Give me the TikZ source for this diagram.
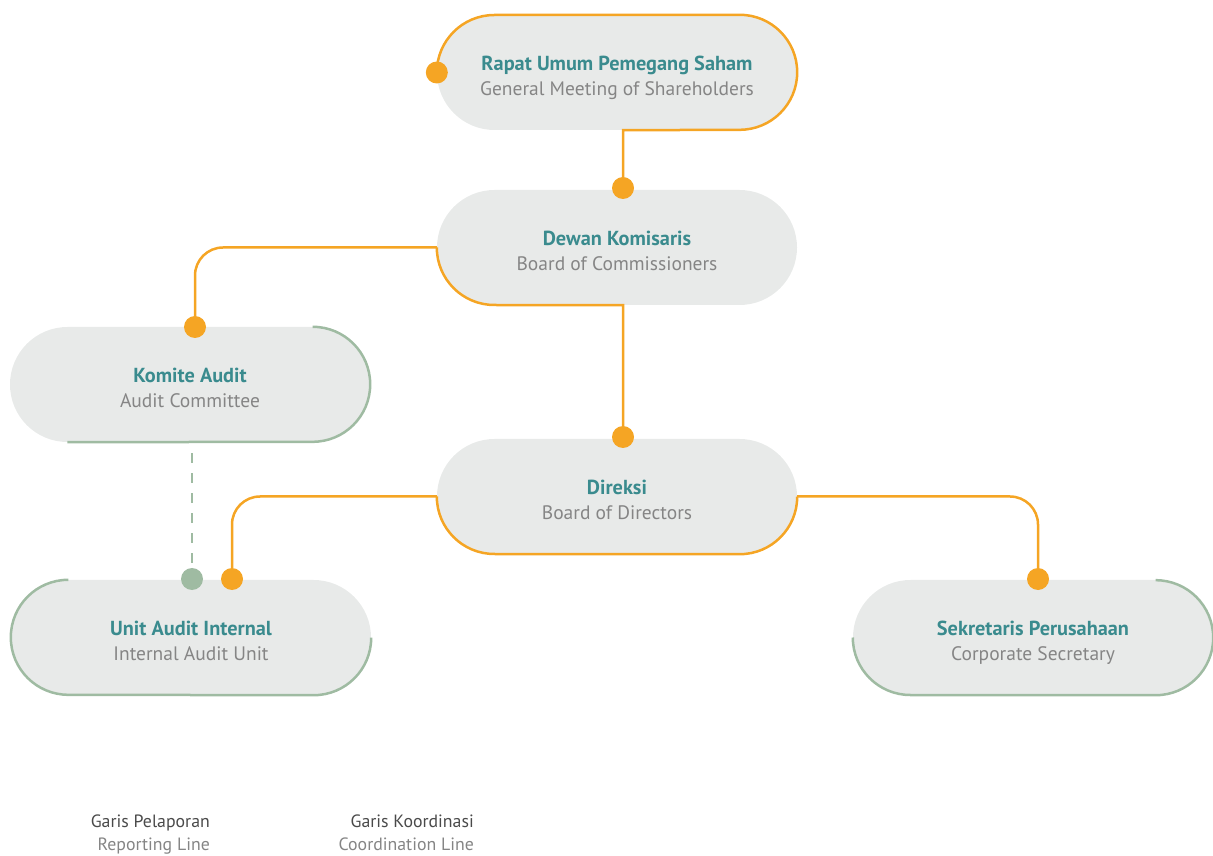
\documentclass[tikz,border=0pt]{standalone}
\usepackage{fontspec}
\setmainfont{PT Sans}
\definecolor{orng}{HTML}{F5A524}
\definecolor{pillgray}{HTML}{E8EAE9}
\definecolor{grn}{HTML}{9FBBA2}
\definecolor{teal}{HTML}{3A8B8E}
\definecolor{subgray}{HTML}{858585}
\definecolor{darkgray}{HTML}{4A4A4A}
\newcommand{\pilltext}[2]{\fontsize{19.5}{25}\selectfont\raisebox{-11pt}[10pt][10pt]{\begin{tabular}{@{}c@{}}{\fontsize{20.3}{25}\selectfont\bfseries\color{teal}#1}\\{\color{subgray}#2}\end{tabular}}}
\newcommand{\sbt}[1]{{\color{subgray}#1}}
\begin{document}
\begin{tikzpicture}[x=1pt,y=1pt,
  pill/.style={rectangle, rounded corners=57.5pt, fill=pillgray, minimum width=360pt, minimum height=115pt, inner sep=0pt, align=center},
  oline/.style={draw=orng, line width=2.5pt},
  gline/.style={draw=grn, line width=2.5pt},
  odot/.style={circle, fill=orng, minimum size=22pt, inner sep=0pt},
  gdotst/.style={circle, fill=grn, minimum size=22pt, inner sep=0pt},
  legt/.style={anchor=south east, inner sep=0pt, font=\fontsize{17.8}{23}\selectfont, align=right}
]
\useasboundingbox (0,0) rectangle (1213,855);
% pills
\node[pill] (rups) at (617,782.5) {\pilltext{Rapat Umum Pemegang Saham}{General Meeting of Shareholders}};
\node[pill] (dewan) at (617,607.5) {\pilltext{Dewan Komisaris}{Board of Commissioners}};
\node[pill] (komite) at (190,470.5) {\pilltext{Komite Audit}{Audit Committee}};
\node[pill] (direksi) at (617,358.5) {\pilltext{Direksi}{Board of Directors}};
\node[pill] (uai) at (191,217.5) {\pilltext{Unit Audit Internal}{Internal Audit Unit}};
\node[pill] (sek) at (1033,217.5) {\pilltext{Sekretaris Perusahaan}{Corporate Secretary}};
% dots
\node[odot] (rdot) at (rups.west) {};
\node[odot] (ddew) at (623,667) {};
\node[odot] (dkom) at (195,528) {};
\node[odot] (ddir) at (623,418) {};
\node[odot] (duai) at (232,276) {};
\node[gdotst] (gdot) at (192,276) {};
\node[odot] (dsek) at (1038,276) {};
% outlines & connectors
\draw[oline] (rups.west) arc[start angle=180,end angle=90,radius=57.5] -- ([xshift=-57.5pt]rups.north east) arc[start angle=90,end angle=-90,radius=57.5] -- ([xshift=6pt]rups.south) -- (ddew);
\draw[oline, rounded corners=28pt] (dkom) |- (dewan.west);
\draw[oline] (dewan.west) arc[start angle=180,end angle=270,radius=57.5] -- ([xshift=6pt]dewan.south) -- (ddir);
\draw[oline, rounded corners=28pt] (duai) |- (direksi.west);
\draw[oline] (direksi.west) arc[start angle=180,end angle=270,radius=57.5] -- ([xshift=-57.5pt]direksi.south east) arc[start angle=270,end angle=360,radius=57.5];
\draw[oline, rounded corners=28pt] (direksi.east) -| (dsek);
\draw[gline] ([xshift=-57.5pt]komite.north east) arc[start angle=90,end angle=-90,radius=57.5] -- ([xshift=57.5pt]komite.south west);
\draw[gline] ([xshift=57.5pt]uai.north west) arc[start angle=90,end angle=270,radius=57.5] -- ([xshift=-57.5pt]uai.south east) arc[start angle=270,end angle=360,radius=57.5];
\draw[gline] (sek.west) arc[start angle=180,end angle=270,radius=57.5] -- ([xshift=-57.5pt]sek.south east) arc[start angle=270,end angle=450,radius=57.5];
\coordinate (dstart) at ([yshift=-11pt]komite.south -| gdot);
\draw[gline, dash pattern=on 10pt off 10pt] (dstart) -- (gdot);
% legend
\node[legt] (leg1) at (210,1) {{\color{darkgray}Garis Pelaporan}\\\sbt{Reporting Line\vphantom{g}}};
\node[legt] (leg2) at (474,1) {{\color{darkgray}Garis Koordinasi}\\\sbt{Coordination Line\vphantom{g}}};
\end{tikzpicture}
\end{document}
